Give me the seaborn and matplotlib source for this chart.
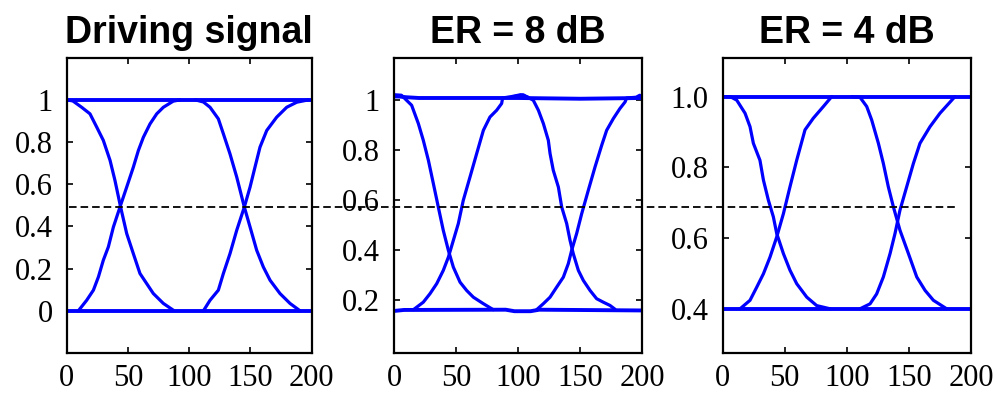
import matplotlib
matplotlib.use("Agg")
import matplotlib.pyplot as plt
import seaborn as sns
from matplotlib.lines import Line2D

sns.set_style("ticks")
plt.rcParams['font.family'] = ['Liberation Serif', 'DejaVu Serif']
plt.rcParams['text.color'] = 'black'

# ---------------- data ----------------
titles = ["Driving signal", "ER = 8 dB", "ER = 4 dB"]
x_ticks = [0, 50, 100, 150, 200]
x_ticklabels = ["0", "50", "100", "150", "200"]

# Panel 1 : driving signal
p1_yticks = [0, 0.2, 0.4, 0.6, 0.8, 1.0]
p1_yticklabels = ["0", "0.2", "0.4", "0.6", "0.8", "1"]
p1_ylim = (-0.2, 1.2)
p1_high_x = [0, 200]
p1_high_y = [1.0, 1.0]
p1_low_x = [0, 200]
p1_low_y = [0.0, 0.0]
p1_fall1_x = [0, 5, 12.2, 19, 24.5, 29.9, 35.4, 39.4, 44, 49, 54.4, 59.8, 65.3, 70.7, 78.9, 87]
p1_fall1_y = [1.0, 0.995, 0.965, 0.934, 0.871, 0.808, 0.713, 0.618, 0.492, 0.366, 0.271, 0.177, 0.129, 0.082, 0.035, 0.003]
p1_rise1_x = [9.5, 16.3, 21.8, 25.9, 29.9, 34, 38.1, 43.5, 49, 54.4, 58.5, 62.6, 68, 73.5, 78.9, 87, 92.5]
p1_rise1_y = [0.0, 0.05, 0.098, 0.161, 0.24, 0.303, 0.397, 0.492, 0.587, 0.681, 0.76, 0.823, 0.886, 0.934, 0.965, 0.994, 1.0]
p1_fall2_x = [105, 111.6, 117, 123.8, 127.9, 133.3, 138.8, 145, 149.7, 155.1, 160.5, 166, 174.1, 182.3, 190.5]
p1_fall2_y = [1.0, 0.99, 0.965, 0.91, 0.839, 0.744, 0.634, 0.492, 0.397, 0.287, 0.208, 0.145, 0.082, 0.035, 0.0]
p1_rise2_x = [111.6, 117, 123.8, 127.9, 133.3, 138.8, 145, 149.7, 153.7, 157.8, 163.3, 171.4, 179.6, 187.8, 197.3]
p1_rise2_y = [0.0, 0.05, 0.098, 0.177, 0.271, 0.382, 0.492, 0.587, 0.681, 0.776, 0.855, 0.918, 0.965, 0.989, 1.0]

# Panel 2 : ER = 8 dB
p2_yticks = [0.2, 0.4, 0.6, 0.8, 1.0]
p2_yticklabels = ["0.2", "0.4", "0.6", "0.8", "1"]
p2_ylim = (-0.01, 1.17)
p2_high_x = [0, 4, 10, 20, 100, 150, 200]
p2_high_y = [1.015, 1.015, 1.012, 1.009, 1.009, 1.006, 1.009]
p2_low_x = [0, 8, 90, 97, 110, 117, 200]
p2_low_y = [0.158, 0.162, 0.163, 0.157, 0.157, 0.163, 0.16]
p2_fall1_x = [0, 6, 14.2, 19.6, 23.6, 27.7, 31.7, 35.7, 39.7, 43.8, 47.8, 53.2, 58.5, 63.9, 72, 80]
p2_fall1_y = [1.022, 1.02, 0.98, 0.907, 0.84, 0.76, 0.667, 0.573, 0.48, 0.4, 0.333, 0.273, 0.24, 0.213, 0.187, 0.163]
p2_rise1_x = [15.6, 23.6, 29, 34.4, 39.7, 43.8, 47.8, 51.8, 55.8, 61.2, 66.6, 72, 77.3, 82.7, 86.7, 87.5, 95, 102, 108]
p2_rise1_y = [0.163, 0.193, 0.227, 0.267, 0.32, 0.373, 0.44, 0.507, 0.6, 0.693, 0.787, 0.88, 0.933, 0.96, 0.987, 1.009, 1.015, 1.022, 1.012]
p2_fall2_x = [97, 104, 112.2, 116.3, 120.3, 124.3, 125.7, 128.3, 132.4, 135.1, 139.1, 141.8, 144.4, 148.5, 152.5, 157.9, 163.2, 168.6, 174, 178]
p2_fall2_y = [1.015, 1.022, 1.0, 0.96, 0.907, 0.84, 0.787, 0.72, 0.653, 0.573, 0.507, 0.44, 0.387, 0.32, 0.28, 0.24, 0.207, 0.193, 0.18, 0.165]
p2_rise2_x = [114.9, 120.3, 125.7, 131, 136.4, 140.4, 143.1, 147.1, 151.2, 156.5, 161.9, 167.3, 171.3, 176.7, 182, 186.1, 187.4, 195, 198]
p2_rise2_y = [0.163, 0.187, 0.213, 0.253, 0.293, 0.347, 0.4, 0.467, 0.547, 0.64, 0.733, 0.82, 0.88, 0.927, 0.967, 0.993, 1.009, 1.012, 1.02]

# Panel 3 : ER = 4 dB
p3_yticks = [0.4, 0.6, 0.8, 1.0]
p3_yticklabels = ["0.4", "0.6", "0.8", "1.0"]
p3_ylim = (0.275, 1.11)
p3_high_x = [0, 200]
p3_high_y = [1.0, 1.0]
p3_low_x = [0, 200]
p3_low_y = [0.4, 0.4]
p3_fall1_x = [0, 6, 11.3, 18, 22, 24.7, 30, 32.8, 36.8, 40.8, 43.5, 48.9, 54.2, 59.6, 67.7, 75.7, 86.5]
p3_fall1_y = [1.0, 1.0, 0.99, 0.953, 0.915, 0.868, 0.82, 0.764, 0.707, 0.66, 0.613, 0.556, 0.509, 0.471, 0.433, 0.409, 0.4]
p3_rise1_x = [14, 22, 27.4, 32.8, 38.1, 43.5, 48.9, 54.2, 59.6, 66.3, 73, 81.1, 87.8]
p3_rise1_y = [0.4, 0.424, 0.461, 0.499, 0.546, 0.603, 0.669, 0.745, 0.82, 0.906, 0.939, 0.972, 1.0]
p3_fall2_x = [104, 110.6, 116, 120, 125.4, 129.4, 133.4, 137.5, 142.8, 149.6, 156.3, 163, 169.7, 180.4]
p3_fall2_y = [1.0, 0.998, 0.972, 0.934, 0.868, 0.811, 0.745, 0.688, 0.622, 0.556, 0.49, 0.452, 0.424, 0.4]
p3_rise2_x = [110.6, 118.7, 124, 129.4, 134.8, 138.8, 142.8, 148.2, 153.6, 158.9, 167, 175, 187.1]
p3_rise2_y = [0.4, 0.414, 0.442, 0.49, 0.556, 0.613, 0.679, 0.745, 0.811, 0.868, 0.915, 0.953, 1.0]

panels = [
    dict(yt=p1_yticks, ytl=p1_yticklabels, ylim=p1_ylim,
         flat=[(p1_high_x, p1_high_y), (p1_low_x, p1_low_y)],
         traces=[(p1_fall1_x, p1_fall1_y), (p1_rise1_x, p1_rise1_y),
                 (p1_fall2_x, p1_fall2_y), (p1_rise2_x, p1_rise2_y)]),
    dict(yt=p2_yticks, ytl=p2_yticklabels, ylim=p2_ylim,
         flat=[(p2_high_x, p2_high_y), (p2_low_x, p2_low_y)],
         traces=[(p2_fall1_x, p2_fall1_y), (p2_rise1_x, p2_rise1_y),
                 (p2_fall2_x, p2_fall2_y), (p2_rise2_x, p2_rise2_y)]),
    dict(yt=p3_yticks, ytl=p3_yticklabels, ylim=p3_ylim,
         flat=[(p3_high_x, p3_high_y), (p3_low_x, p3_low_y)],
         traces=[(p3_fall1_x, p3_fall1_y), (p3_rise1_x, p3_rise1_y),
                 (p3_fall2_x, p3_fall2_y), (p3_rise2_x, p3_rise2_y)]),
]

# ---------------- figure ----------------
fig = plt.figure(figsize=(10.01, 3.99), dpi=100)
lefts = [66.7 / 1001, 394 / 1001, 722.7 / 1001]
widths = [245 / 1001, 248.3 / 1001, 248.3 / 1001]
bottom = (399 - 353) / 399
height = (353 - 57.7) / 399

blue = "#0000ff"
for i, p in enumerate(panels):
    ax = fig.add_axes([lefts[i], bottom, widths[i], height])
    for fx, fy in p["flat"]:
        sns.lineplot(x=fx, y=fy, ax=ax, color=blue, linewidth=2.8,
                     sort=False, estimator=None)
    for tx, ty in p["traces"]:
        sns.lineplot(x=tx, y=ty, ax=ax, color=blue, linewidth=2.3,
                     sort=False, estimator=None)
    ax.set_xlim(0, 200)
    ax.set_ylim(*p["ylim"])
    ax.set_xticks(x_ticks)
    ax.set_xticklabels(x_ticklabels)
    ax.set_yticks(p["yt"])
    ax.set_yticklabels(p["ytl"])
    ax.tick_params(direction="in", length=4, width=1.2, top=True, right=True,
                   labelsize=22, colors="black", labelcolor="black")
    ax.tick_params(axis="y", pad=10)
    ax.tick_params(axis="x", pad=8)
    for s in ax.spines.values():
        s.set_visible(True)
        s.set_linewidth(1.6)
        s.set_color("black")
    ax.set_title(titles[i], fontsize=27, fontweight="bold", color="black",
                 family=["Liberation Sans", "DejaVu Sans"], pad=10.5)
    ax.set_xlabel("")
    ax.set_ylabel("")

# figure-wide dashed reference line
yline = (399 - 207.3) / 399
fig.add_artist(Line2D([69.3 / 1001, 957.3 / 1001], [yline, yline],
                      transform=fig.transFigure, color="black", lw=1.3,
                      dashes=(4.2, 2.2), zorder=10))

fig.savefig("out.png", dpi=100)
